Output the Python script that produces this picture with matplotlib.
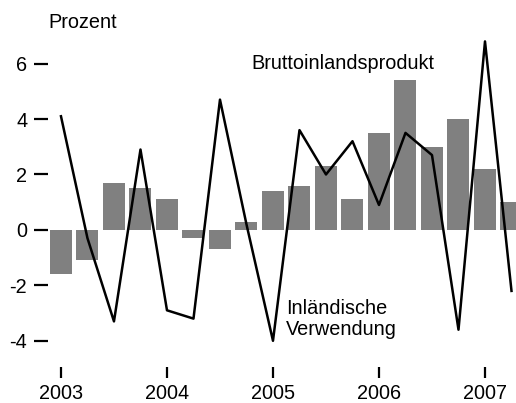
import matplotlib.pyplot as plt
import numpy as np

plt.rcParams['font.family'] = ['Liberation Sans', 'DejaVu Sans']

# Quarterly values 2003 Q1 - 2007 Q2
quarters = np.arange(18)
bip = [-1.6, -1.1, 1.7, 1.5, 1.1, -0.3, -0.7, 0.3, 1.4, 1.6, 2.3, 1.1,
       3.5, 5.4, 3.0, 4.0, 2.2, 1.0]
verwendung = [4.1, -0.3, -3.3, 2.9, -2.9, -3.2, 4.7, 0.2, -4.0, 3.6, 2.0, 3.2,
              0.9, 3.5, 2.7, -3.6, 6.8, -2.2]
year_ticks = [0, 4, 8, 12, 16]
year_labels = ['2003', '2004', '2005', '2006', '2007']
y_ticks = [-4, -2, 0, 2, 4, 6]

fs = 14.3

fig = plt.figure(figsize=(5.16, 4.03), dpi=100)
ax = fig.add_axes([0.093, 0.089, 0.907, 0.822])

ax.bar(quarters, bip, width=0.83, color='#808080', zorder=1)
ax.plot(quarters, verwendung, color='black', lw=1.8, zorder=2)

ax.set_xlim(-0.49, 17.17)
ax.set_ylim(-4.95, 7.0)
ax.set_xticks(year_ticks)
ax.set_xticklabels(year_labels)
ax.set_yticks(y_ticks)
ax.set_yticklabels([str(v) for v in y_ticks])

for s in ax.spines.values():
    s.set_visible(False)
ax.tick_params(axis='y', length=10, width=1.6, pad=5, labelsize=fs)
ax.tick_params(axis='x', length=8, width=1.6, pad=4, labelsize=fs)

ax.text(7.17, 6.0, 'Bruttoinlandsprodukt', fontsize=fs, ha='left', va='center')
ax.text(8.49, -2.5, 'Inländische\nVerwendung', fontsize=fs, ha='left', va='top',
        linespacing=1.1)
fig.text(48 / 516, 1 - 22 / 403, 'Prozent', fontsize=fs, ha='left', va='center')

fig.savefig('out.png', dpi=100)
